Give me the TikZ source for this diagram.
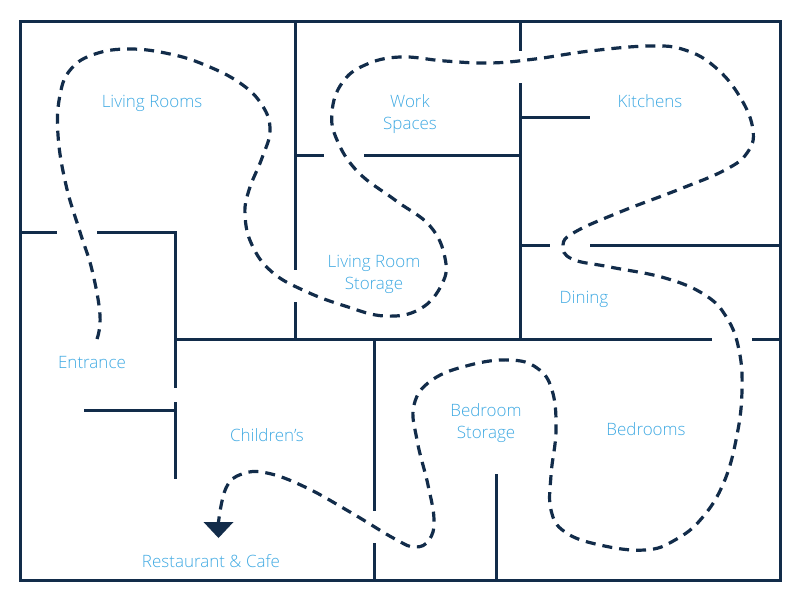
\documentclass[tikz,border=0pt]{standalone}
\usepackage{fontspec}
\setmainfont{Open Sans Light}
\usepackage{tikz}
\usetikzlibrary{positioning}
\definecolor{wallblue}{HTML}{122C4A}
\definecolor{labelblue}{HTML}{3FA9E2}
\tikzset{
    wall/.style={
           draw=wallblue,
           line width=3pt
           },
    route/.style={
           draw=wallblue,
           line width=3.2pt,
           dash pattern=on 10pt off 7pt
           },
    roomlabel/.style={
           text=labelblue,
           align=center,
           inner sep=0pt,
           font=\fontsize{17}{22}\selectfont
           }
}
\begin{document}
\begin{tikzpicture}[x=1pt,y=-1pt]
   \useasboundingbox (0,0) rectangle (800,600);

   % outer walls
   \draw[wall] (20,21) rectangle (780,580);

   % inner walls
   \draw[wall] (295,21) -- (295,270);
   \draw[wall] (295,302) -- (295,339);
   \draw[wall] (295,155) -- (324,155);
   \draw[wall] (364,155) -- (520,155);
   \draw[wall] (520,21) -- (520,51);
   \draw[wall] (520,83) -- (520,339);
   \draw[wall] (520,117) -- (590,117);
   \draw[wall] (520,245) -- (550,245);
   \draw[wall] (590,245) -- (780,245);
   \draw[wall] (20,232) -- (57,232);
   \draw[wall] (97,232) -- (175,232) -- (175,388);
   \draw[wall] (175,402) -- (175,479);
   \draw[wall] (84,410) -- (175,410);
   \draw[wall] (175,339) -- (712,339);
   \draw[wall] (752,339) -- (780,339);
   \draw[wall] (374,339) -- (374,511);
   \draw[wall] (374,543) -- (374,580);
   \draw[wall] (496,474) -- (496,580);

   % rooms
   \node[roomlabel] (living)   at (152,103) {Living Rooms};
   \node[roomlabel] (work)     at (410,114.5) {Work\\Spaces};
   \node[roomlabel] (kitchens) at (650,101) {Kitchens};
   \node[roomlabel] (storage)  at (374,274.5) {Living Room\\Storage};
   \node[roomlabel] (dining)   at (584,299) {Dining};
   \node[roomlabel] (entrance) at (92,363)  {Entrance};
   \node[roomlabel] (children) at (267,435) {Children’s};
   \node[roomlabel] (bedstore) at (486,423.5) {Bedroom\\Storage};
   \node[roomlabel] (bedrooms) at (646,429) {Bedrooms};
   \node[roomlabel] (cafe)     at (211,561) {Restaurant \& Cafe};

   % the way through the store
   \coordinate (routestart) at (97,339);
   \coordinate (routeend) at (218.5,522);
   \draw[route] plot[smooth,tension=0.7] coordinates {
      (routestart) (100,315) (92,270) (80,232) (66,185) (58,135)
      (60,95) (71,69) (95,54) (130,49) (170,54) (205,65)
      (240,83) (262,105) (270,130) (262,158) (249,190)
      (245,215) (252,245) (272,272) (305,291) (345,306) (385,316)
      (420,309) (442,284) (445,258) (430,226) (395,200)
      (358,172) (337,140) (332,112) (342,83) (365,65)
      (400,57) (445,61) (490,63) (535,59) (590,51)
      (650,46) (685,50) (715,67) (740,97) (753,130)
      (747,153) (725,170) (680,189) (620,212) (575,232) (563,245)
      (572,259) (610,267) (665,278) (705,295) (727,318) (739,350)
      (742,390) (737,435) (724,482) (702,518) (675,540) (645,550)
      (600,545) (565,532) (551,510) (551,475) (556,430)
      (552,390) (537,368) (510,360) (470,365) (432,380) (414,405)
      (417,440) (428,485) (434,520) (429,540) (415,547) (395,539)
      (350,512) (305,487) (267,473) (242,474) (226,488)
      (routeend)};
   \fill[wallblue] (routeend) ++(-15,0) -- ++(30,0) -- ++(-15,16) -- cycle;
\end{tikzpicture}
\end{document}
